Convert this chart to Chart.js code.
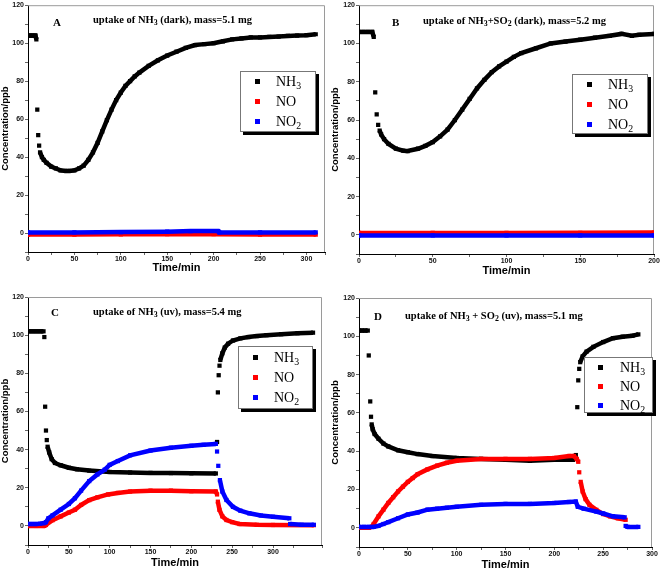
<!DOCTYPE html>
<html>
<head>
<meta charset="utf-8">
<script src="https://cdn.jsdelivr.net/npm/chart.js@4.4.1/dist/chart.umd.min.js"></script>
<style>
  body { margin: 0; background: #fff; }
  #page { position: relative; width: 661px; height: 570px; overflow: hidden; }
  canvas { position: absolute; }
  .tag { position: absolute; font: bold 11px "Liberation Serif", serif; line-height: 12px; }
  .ttl { position: absolute; font: bold 10.5px "Liberation Serif", serif; line-height: 12px; white-space: nowrap; }
  .ttl sub { font-size: 75%; vertical-align: -2px; line-height: 0; }
  .leg { position: absolute; border: 1px solid #777; background: #fff; box-shadow: 3px 3px 0 #000; box-sizing: border-box; }
  .leg div { position: relative; height: 20px; font: 14px "Liberation Serif", serif; line-height: 20px; padding-left: 35px; }
  .leg div sub { font-size: 70%; vertical-align: -3px; line-height: 0; }
  .leg i { position: absolute; left: 14px; top: 7px; width: 5px; height: 5px; }
</style>
</head>
<body>
<div id="page">
  <canvas id="cA" width="330" height="285" style="left:0;top:0"></canvas>
  <canvas id="cB" width="331" height="285" style="left:330px;top:0"></canvas>
  <canvas id="cC" width="330" height="290" style="left:0;top:280px"></canvas>
  <canvas id="cD" width="331" height="290" style="left:330px;top:280px"></canvas>

  <span class="tag" style="left:53px;top:16px">A</span>
  <span class="ttl" style="left:93px;top:14px">uptake of NH<sub>3</sub> (dark), mass=5.1 mg</span>
  <span class="tag" style="left:392px;top:16px">B</span>
  <span class="ttl" style="left:423px;top:15px">uptake of NH<sub>3</sub>+SO<sub>2</sub> (dark), mass=5.2 mg</span>
  <span class="tag" style="left:51px;top:306px">C</span>
  <span class="ttl" style="left:93px;top:306px">uptake of NH<sub>3</sub> (uv), mass=5.4 mg</span>
  <span class="tag" style="left:374px;top:310px">D</span>
  <span class="ttl" style="left:405px;top:310px">uptake of NH<sub>3</sub> + SO<sub>2</sub> (uv), mass=5.1 mg</span>

  <div class="leg" style="left:240px;top:71px;width:76px;height:61px">
    <div><i style="background:#000"></i>NH<sub>3</sub></div>
    <div><i style="background:#f00"></i>NO</div>
    <div><i style="background:#00f"></i>NO<sub>2</sub></div>
  </div>
  <div class="leg" style="left:572px;top:74px;width:76px;height:60px">
    <div><i style="background:#000"></i>NH<sub>3</sub></div>
    <div><i style="background:#f00"></i>NO</div>
    <div><i style="background:#00f"></i>NO<sub>2</sub></div>
  </div>
  <div class="leg" style="left:238px;top:346px;width:75px;height:63px;padding-top:1px">
    <div><i style="background:#000"></i>NH<sub>3</sub></div>
    <div><i style="background:#f00"></i>NO</div>
    <div><i style="background:#00f"></i>NO<sub>2</sub></div>
  </div>
  <div class="leg" style="left:584px;top:357px;width:69px;height:56px">
    <div style="height:19px;line-height:19px"><i style="background:#000;left:13px"></i>NH<sub>3</sub></div>
    <div style="height:19px;line-height:19px"><i style="background:#f00;left:13px"></i>NO</div>
    <div style="height:19px;line-height:19px"><i style="background:#00f;left:13px"></i>NO<sub>2</sub></div>
  </div>
</div>

<script>
// [time/min, concentration/ppb]

// A: NH3 (dark)
const nh3A = [[0,104],[2,104],[4,104],[6,104],[8,104],[9,102],[10,65],[11,51.5],[12,46],[13,42.5],[15,40],[17,38.5],[20,37],
  [25,35],[30,34],[35,33],[40,32.7],[45,32.7],[50,33],[55,34],[60,35.5],[65,38.5],[70,42.5],[75,47.5],[80,53.5],[85,59.5],
  [90,65],[95,70],[100,74],[105,77.5],[110,80],[115,82.5],[120,84.5],[130,88],[140,91],[150,93.5],[160,95.5],[170,97.5],
  [180,99],[190,99.5],[200,100],[210,101],[220,102],[230,102.5],[240,103],[250,103],[260,103.3],[270,103.5],[280,103.8],
  [290,104],[300,104.2],[310,104.7]];
const noA = [[0,-0.8],[50,-0.8],[100,-0.7],[150,-0.6],[200,-0.6],[250,-0.8],[310,-0.8]];
const no2A = [[0,0.3],[50,0.3],[100,0.5],[150,0.7],[175,1],[205,1],[206,0.3],[250,0.3],[310,0.3]];

// B: NH3 + SO2 (dark)
const nh3B = [[0,106],[3,106],[6,106],[9,106],[10,103.5],[11,74.5],[12,63],[13,57.5],[14,54.5],[15,52.5],[17,50],[20,47.5],
  [25,45],[30,44],[33,43.8],[40,45],[45,46.5],[50,48.5],[55,51.5],[60,55],[65,60],[70,65.5],[75,71],[80,76.5],[85,81],
  [90,85],[95,88],[100,90.5],[105,93],[110,95],[120,97.5],[130,100],[140,101],[150,102],[160,103],[170,104],[178,105],
  [185,104],[190,104.5],[200,105]];
const noB = [[0,1],[50,1],[100,1],[150,1.1],[200,1.2]];
const no2B = [[0,-0.3],[50,-0.3],[100,-0.3],[150,-0.3],[200,-0.3]];

// C: NH3 (uv)
const nh3C = [[0,102],[5,102],[10,102],[15,102],[19,102],[20,99],[21,62.5],[22,50],[23,45],[24,41.5],[26,38.5],[29,35],
  [33,33],[40,31.8],[50,30.5],[60,29.7],[75,29],[100,28.3],[125,28],[150,27.8],[175,27.7],[200,27.6],[230,27.5],
  [231.5,44],[232.5,70],[233.5,79],[234.5,84],[235.5,87],[238,90.5],[241,93.5],[245,95.5],[251,97.2],[260,98.3],
  [270,99],[280,99.5],[292,100],[310,100.5],[330,101],[349,101.3]];
const noC = [[0,0],[10,0],[20,0],[22,0.5],[30,3],[40,5],[50,7],[57.5,8.5],[65,11],[75,13.5],[85,15],[98,16.5],[110,17.3],
  [125,18],[150,18.5],[175,18.5],[200,18.2],[230,18],[231.5,16.5],[232.5,12.7],[234.5,8.4],[238,5],[243,3.1],[250,2],
  [259,1],[280,0.6],[300,0.5],[350,0.4]];
const no2C = [[0,1],[5,1],[10,1],[15,1.2],[20,1.5],[22,2],[25,4],[30,5.5],[40,8.5],[50,11.5],[57.5,14.5],[65,18.5],
  [75,23.5],[85,27],[94,29.5],[100,32],[110,34],[125,37],[150,39.5],[175,41],[200,42],[215,42.5],[230,43],[231.5,39],
  [233,31.5],[235,24],[238,18],[243,13.6],[251,10],[260,8],[271,6.6],[285,5.5],[300,4.8],[320,4],[321,1],[335,0.6],[350,0.6]];

// D: NH3 + SO2 (uv)
const nh3D = [[0,103],[3,103],[6,103],[9,103],[10,90],[11.5,66],[12.3,58],[13,54],[14,51.5],[16,49],[20,46.5],[25,44],
  [30,42.5],[40,40.5],[50,39.5],[60,38.5],[75,37.5],[100,36.5],[125,36],[150,35.5],[175,35],[200,35.5],[219,35.5],
  [222,38],[223.5,63],[224.5,77],[225.5,83],[226.5,86.5],[229,89.5],[233,92],[240,94.5],[250,97],[260,99],[270,99.8],
  [280,100.3],[286,101]];
const noD = [[0,0],[5,0],[10,0],[13,0.5],[15,2],[20,6],[25,9.5],[30,13],[35,16],[40,19],[45,21.5],[50,24],[55,26],
  [60,28],[70,30.5],[80,32.5],[90,34],[100,35],[125,36],[150,36],[175,36],[200,36.5],[215,37.5],[220,37.5],[223,36],
  [224.5,34.5],[225.5,29],[227,24],[229,19],[232,15],[236,12],[243,9.4],[250,7.2],[257,6],[265,5],[273,4.2]];
const no2D = [[0,0.5],[5,0.5],[10,0.5],[15,0.5],[20,1],[25,2],[30,3],[40,5],[50,7],[60,8],[70,9.5],[80,10],[90,10.5],
  [100,11],[125,12],[150,12.5],[175,12.5],[200,13],[215,13.5],[222,13.7],[224,11],[230,10],[243,8.5],[250,7.5],[260,6],
  [272,5.5],[273,1],[275,0.5],[286,0.5]];

const yTicksMin = -10, yTicksMax = 120;

// grey frame on top/right, like Origin plots
const frame = {
  id: "frame",
  beforeDatasetsDraw(chart) {
    const { ctx, chartArea: a } = chart;
    ctx.save();
    ctx.strokeStyle = "#9a9a9a";
    ctx.lineWidth = 1;
    ctx.beginPath();
    ctx.moveTo(a.left, a.top + 0.5);
    ctx.lineTo(a.right - 0.5, a.top + 0.5);
    ctx.lineTo(a.right - 0.5, a.bottom);
    ctx.stroke();
    ctx.restore();
  }
};

function serie(nome, pts, cor, ordem) {
  return {
    label: nome,
    data: pts.map(p => ({ x: p[0], y: p[1] })),
    showLine: true,
    borderColor: cor,
    backgroundColor: cor,
    borderWidth: 4.5,
    pointStyle: "rect",
    pointRadius: 3,
    pointBorderWidth: 0,
    tension: 0,
    order: ordem,
    // isolated squares where the signal jumps
    segment: {
      borderColor: s => {
        const dx = Math.max(s.p1.parsed.x - s.p0.parsed.x, 0.5);
        return Math.abs(s.p1.parsed.y - s.p0.parsed.y) / dx > 2.5 ? "transparent" : undefined;
      }
    }
  };
}

function painel(id, xMax, area, series) {
  const cv = document.getElementById(id);
  const w = cv.width, h = cv.height;
  const tickFont = { family: "Liberation Sans, Arial, sans-serif", size: 7, weight: "bold" };
  return new Chart(cv.getContext("2d"), {
    type: "scatter",
    data: { datasets: series },
    options: {
      responsive: false,
      animation: false,
      events: [],
      layout: { padding: { left: 0, top: area.t, right: w - area.r, bottom: 0 } },
      plugins: { legend: { display: false }, tooltip: { enabled: false } },
      scales: {
        x: {
          type: "linear",
          min: 0,
          max: xMax,
          afterFit: s => { s.height = h - area.b; },
          border: { color: "#000", width: 1 },
          grid: { drawOnChartArea: false, drawTicks: true, tickLength: 3, color: "#666" },
          ticks: {
            stepSize: 25,
            autoSkip: false,
            maxRotation: 0,
            padding: 0,
            color: "#111",
            font: tickFont,
            callback: v => (v % 50 === 0 ? v : "")
          },
          title: {
            display: true,
            text: "Time/min",
            color: "#000",
            font: { family: "Liberation Sans, Arial, sans-serif", size: 11, weight: "bold", lineHeight: 1 },
            padding: { top: 0, bottom: Math.max(0, h - area.xt - 5.5) }
          }
        },
        y: {
          min: yTicksMin,
          max: yTicksMax,
          afterFit: s => { s.width = area.l; },
          border: { color: "#000", width: 1 },
          grid: { drawOnChartArea: false, drawTicks: true, tickLength: 3, color: "#666" },
          ticks: {
            stepSize: 10,
            autoSkip: false,
            padding: 1,
            color: "#111",
            font: tickFont,
            callback: v => (v % 20 === 0 && v >= 0 ? v : "")
          },
          title: {
            display: true,
            text: "Concentration/ppb",
            color: "#000",
            font: { family: "Liberation Sans, Arial, sans-serif", size: 9.5, weight: "bold" },
            padding: { top: 0, bottom: 0 }
          }
        }
      }
    },
    plugins: [frame]
  });
}

const preto = "#000000", vermelho = "#ff0000", azul = "#0000ff";

painel("cA", 320, { l: 28, r: 325, t: 4, b: 252, xt: 268 }, [
  serie("NH3", nh3A, preto, 3), serie("NO", noA, vermelho, 2), serie("NO2", no2A, azul, 1)
]);
painel("cB", 200, { l: 29, r: 324, t: 4, b: 254, xt: 270.5 }, [
  serie("NH3", nh3B, preto, 3), serie("NO", noB, vermelho, 2), serie("NO2", no2B, azul, 1)
]);
painel("cC", 360, { l: 28, r: 322, t: 17, b: 265, xt: 282.5 }, [
  serie("NH3", nh3C, preto, 3), serie("NO", noC, vermelho, 2), serie("NO2", no2C, azul, 1)
]);
painel("cD", 300, { l: 29, r: 322, t: 18, b: 267, xt: 284.5 }, [
  serie("NH3", nh3D, preto, 3), serie("NO", noD, vermelho, 2), serie("NO2", no2D, azul, 1)
]);
</script>
</body>
</html>
